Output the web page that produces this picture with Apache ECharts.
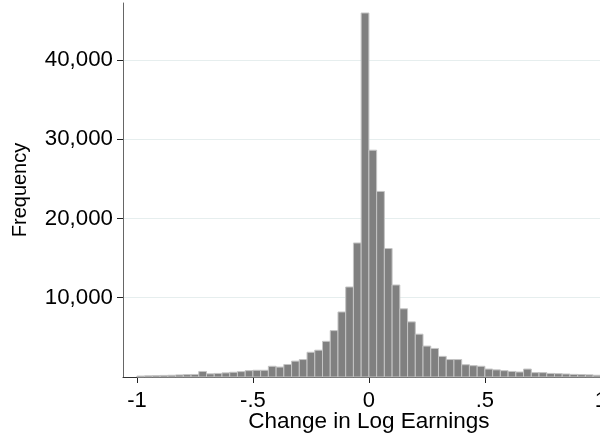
<!DOCTYPE html>
<html>
<head>
<meta charset="utf-8">
<script src="https://cdn.jsdelivr.net/npm/echarts@6/dist/echarts.min.js"></script>
<style>
html,body{margin:0;padding:0;background:#fff;}
#chart{width:600px;height:437px;}
</style>
</head>
<body>
<div id="chart"></div>
<script>
// Histogram of change in log earnings: 60 bins of width 1/30 from -1 to 1
var binStart = -1;
var binWidth = 1 / 30;
var frequencies = [
  120, 150, 170, 200, 220, 260, 300, 320, 700, 400,
  450, 520, 600, 680, 800, 850, 850, 1350, 1250, 1580,
  2000, 2200, 3120, 3380, 4500, 5850, 8200, 11350, 16900, 45900,
  28600, 23400, 16200, 11600, 8600, 6950, 5400, 3900, 3600, 2600,
  2200, 2200, 1550, 1430, 1350, 1000, 900, 800, 700, 630,
  1000, 550, 550, 450, 420, 380, 330, 300, 270, 220
];
var xTicks = [-1, -0.5, 0, 0.5, 1];
var yTicks = [10000, 20000, 30000, 40000];
var xTitle = 'Change in Log Earnings';
var yTitle = 'Frequency';

var data = frequencies.map(function (f, i) {
  var x0 = binStart + i * binWidth;
  return [x0, x0 + binWidth, f];
});

var FONT = '"Liberation Sans", Arial, Helvetica, sans-serif';
var chart = echarts.init(document.getElementById('chart'), null, {renderer: 'canvas'});
chart.setOption({
  animation: false,
  backgroundColor: '#ffffff',
  grid: {left: 123, top: 3, width: 491.8, height: 374, containLabel: false, outerBoundsMode: 'none'},
  xAxis: {
    type: 'value',
    min: -1.06,
    max: 1.06,
    name: xTitle,
    nameLocation: 'middle',
    nameGap: 33,
    nameMoveOverlap: false,
    nameTextStyle: {fontFamily: FONT, fontSize: 22.5, color: '#000'},
    axisLine: {show: true, onZero: false, lineStyle: {color: '#333', width: 1}},
    axisTick: {show: true, length: 6, customValues: xTicks, lineStyle: {color: '#222'}},
    axisLabel: {
      customValues: xTicks,
      margin: 13,
      hideOverlap: false,
      fontFamily: FONT, fontSize: 22, color: '#000',
      formatter: function (v) {
        if (v === 0) return '0';
        var s = String(Math.abs(v)).replace(/^0\./, '.');
        return (v < 0 ? '-' : '') + s;
      }
    },
    splitLine: {show: false}
  },
  yAxis: {
    type: 'value',
    min: 0,
    max: 47160,
    interval: 10000,
    name: yTitle,
    nameLocation: 'middle',
    nameGap: 93,
    nameMoveOverlap: false,
    nameTextStyle: {fontFamily: FONT, fontSize: 20, color: '#000'},
    axisLine: {show: true, onZero: false, lineStyle: {color: '#666', width: 1}},
    axisTick: {show: true, length: 6, customValues: yTicks, lineStyle: {color: '#222'}},
    axisLabel: {
      customValues: yTicks,
      margin: 10,
      fontFamily: FONT, fontSize: 22.3, color: '#000',
      formatter: function (v) { return v.toLocaleString('en-US'); }
    },
    splitLine: {show: true, lineStyle: {color: '#e6eeee', width: 1}}
  },
  series: [{
    type: 'custom',
    data: data,
    encode: {x: [0, 1], y: 2},
    renderItem: function (params, api) {
      var p0 = api.coord([api.value(0), 0]);
      var p1 = api.coord([api.value(1), api.value(2)]);
      return {
        type: 'rect',
        shape: {x: p0[0], y: p1[1], width: p1[0] - p0[0], height: p0[1] - p1[1]},
        style: {fill: '#808080', stroke: '#c4c4c4', lineWidth: 1}
      };
    }
  }]
});
</script>
</body>
</html>
